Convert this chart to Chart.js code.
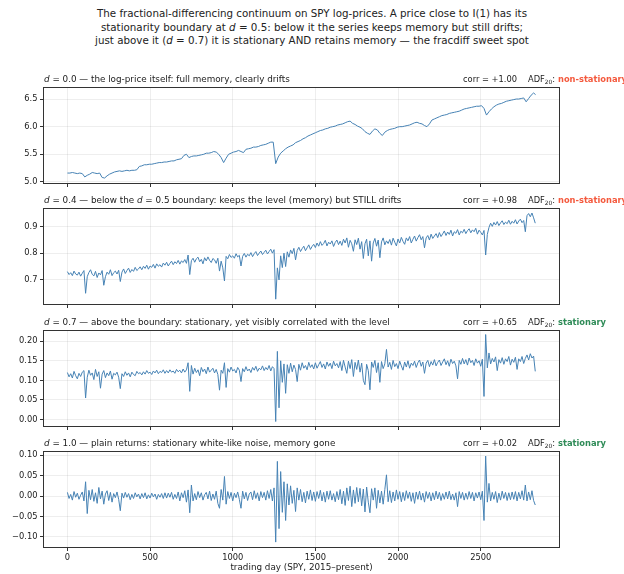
<!DOCTYPE html>
<html><head><meta charset="utf-8">
<script src="https://cdn.jsdelivr.net/npm/chart.js@4.4.1/dist/chart.umd.min.js"></script>
<style>
html,body{margin:0;padding:0;background:#fff;}
body{width:624px;height:574px;position:relative;overflow:hidden;font-family:"DejaVu Sans",sans-serif;}
#title{position:absolute;left:0;top:7px;width:624px;text-align:center;font-size:10.3px;line-height:13.5px;color:#222;}
canvas{position:absolute;left:0;}
</style></head><body>
<div id="title">The fractional-differencing continuum on SPY log-prices. A price close to I(1) has its<br>stationarity boundary at <i>d</i> = 0.5: below it the series keeps memory but still drifts;<br>just above it (<i>d</i> = 0.7) it is stationary AND retains memory — the fracdiff sweet spot</div>
<canvas id="c0"></canvas><canvas id="c1"></canvas><canvas id="c2"></canvas><canvas id="c3"></canvas>
<script>
// ---- data ----
// log-price sampled every 15 trading days; the noisier series every 10 trading days
const DAYS15 = Array.from({length: 190}, (_, i) => Math.min(i * 15, 2832));
const DAYS10 = Array.from({length: 284}, (_, i) => i * 10);
const X_TICKS = [0, 500, 1000, 1500, 2000, 2500];

const LOGPRICE_D00 = [
5.16,5.16,5.17,5.16,5.15,5.16,5.15,5.09,5.12,5.14,
5.17,5.16,5.15,5.16,5.08,5.07,5.11,5.14,5.16,5.18,
5.19,5.20,5.19,5.20,5.21,5.20,5.21,5.21,5.22,5.28,
5.29,5.31,5.31,5.32,5.32,5.33,5.34,5.35,5.35,5.36,
5.36,5.37,5.38,5.38,5.40,5.41,5.42,5.48,5.50,5.44,
5.46,5.47,5.47,5.48,5.49,5.50,5.52,5.52,5.53,5.55,
5.54,5.50,5.44,5.35,5.43,5.50,5.52,5.54,5.55,5.57,
5.55,5.53,5.59,5.60,5.61,5.63,5.63,5.64,5.66,5.67,
5.68,5.70,5.72,5.72,5.33,5.45,5.52,5.56,5.60,5.63,
5.65,5.67,5.71,5.73,5.75,5.78,5.80,5.83,5.85,5.87,
5.89,5.91,5.93,5.94,5.96,5.97,5.99,6.00,6.01,6.03,
6.04,6.05,6.07,6.09,6.10,6.06,6.04,6.01,5.99,5.96,
5.91,5.88,5.86,5.92,5.96,5.94,5.88,5.84,5.90,5.93,
5.95,5.96,5.97,5.99,6.00,6.00,6.01,6.02,6.03,6.05,
6.07,6.08,6.06,6.05,6.02,6.00,6.05,6.12,6.14,6.16,
6.18,6.20,6.21,6.22,6.24,6.25,6.26,6.27,6.28,6.30,
6.32,6.33,6.34,6.35,6.36,6.37,6.37,6.38,6.33,6.21,
6.27,6.32,6.36,6.39,6.41,6.42,6.44,6.46,6.47,6.48,
6.49,6.50,6.50,6.51,6.52,6.45,6.51,6.57,6.61,6.58];

const FRAC_D04 = [
0.731,0.720,0.727,0.716,0.733,0.722,0.718,0.729,0.714,0.725,0.735,0.650,0.712,0.728,0.738,
0.721,0.715,0.732,0.709,0.726,0.719,0.735,0.680,0.712,0.729,0.721,0.738,0.716,0.727,0.733,
0.722,0.736,0.694,0.729,0.741,0.724,0.735,0.744,0.728,0.739,0.732,0.747,0.735,0.741,0.749,
0.738,0.751,0.743,0.755,0.740,0.752,0.747,0.758,0.744,0.760,0.751,0.757,0.748,0.763,0.755,
0.766,0.752,0.762,0.770,0.757,0.768,0.761,0.773,0.759,0.771,0.765,0.776,0.762,0.793,0.720,
0.772,0.781,0.766,0.779,0.785,0.768,0.777,0.760,0.783,0.771,0.786,0.773,0.765,0.780,0.775,
0.762,0.781,0.733,0.770,0.745,0.696,0.788,0.779,0.795,0.784,0.790,0.781,0.798,0.786,0.792,
0.752,0.788,0.799,0.785,0.796,0.790,0.802,0.787,0.798,0.806,0.791,0.800,0.808,0.795,0.803,
0.811,0.797,0.806,0.815,0.800,0.813,0.628,0.745,0.700,0.790,0.746,0.800,0.750,0.805,0.785,
0.812,0.798,0.818,0.775,0.810,0.822,0.806,0.817,0.826,0.809,0.820,0.831,0.814,0.825,0.833,
0.821,0.838,0.826,0.843,0.829,0.836,0.848,0.827,0.841,0.834,0.846,0.825,0.840,0.849,0.832,
0.845,0.829,0.852,0.838,0.857,0.822,0.848,0.835,0.807,0.850,0.832,0.856,0.815,0.843,0.780,
0.835,0.852,0.790,0.846,0.770,0.838,0.855,0.826,0.849,0.783,0.842,0.857,0.831,0.846,0.836,
0.851,0.830,0.856,0.841,0.827,0.853,0.838,0.859,0.844,0.833,0.857,0.846,0.862,0.838,0.852,
0.864,0.845,0.858,0.869,0.850,0.862,0.820,0.857,0.866,0.849,0.871,0.855,0.864,0.873,0.858,
0.877,0.862,0.872,0.883,0.866,0.879,0.870,0.886,0.864,0.880,0.874,0.888,0.868,0.882,0.876,
0.889,0.873,0.884,0.891,0.876,0.887,0.880,0.893,0.871,0.886,0.878,0.868,0.885,0.793,0.870,
0.896,0.912,0.900,0.915,0.905,0.918,0.903,0.913,0.921,0.907,0.916,0.910,0.923,0.908,0.919,
0.912,0.925,0.909,0.920,0.927,0.914,0.922,0.880,0.940,0.948,0.936,0.950,0.932,0.912];

const FRAC_D07 = [
0.120,0.109,0.117,0.106,0.123,0.112,0.104,0.118,0.110,0.121,0.125,0.055,0.108,0.126,0.113,
0.119,0.102,0.128,0.110,0.122,0.080,0.116,0.125,0.107,0.119,0.112,0.124,0.103,0.118,0.114,
0.121,0.108,0.079,0.117,0.110,0.122,0.113,0.119,0.109,0.121,0.115,0.112,0.123,0.117,0.120,
0.114,0.122,0.116,0.125,0.118,0.121,0.115,0.124,0.119,0.126,0.117,0.123,0.120,0.127,0.118,
0.125,0.119,0.127,0.121,0.124,0.118,0.128,0.122,0.126,0.119,0.129,0.121,0.127,0.145,0.072,
0.138,0.116,0.131,0.120,0.127,0.112,0.133,0.122,0.129,0.117,0.134,0.121,0.126,0.131,0.119,
0.128,0.115,0.075,0.126,0.118,0.145,0.082,0.130,0.121,0.134,0.124,0.128,0.119,0.133,0.126,
0.097,0.130,0.122,0.135,0.124,0.129,0.120,0.133,0.126,0.136,0.123,0.131,0.127,0.137,0.125,
0.133,0.127,0.138,0.124,0.135,0.130,-0.005,0.174,0.030,0.150,0.095,0.142,0.067,0.140,0.118,
0.144,0.122,0.139,0.128,0.097,0.141,0.126,0.145,0.131,0.138,0.127,0.146,0.133,0.140,0.129,
0.145,0.131,0.140,0.148,0.133,0.142,0.129,0.147,0.136,0.144,0.130,0.149,0.137,0.143,0.132,
0.148,0.125,0.151,0.134,0.118,0.149,0.130,0.153,0.110,0.146,0.128,0.152,0.121,0.144,0.100,
0.089,0.141,0.125,0.076,0.147,0.133,0.151,0.120,0.145,0.095,0.148,0.130,0.142,0.179,0.134,
0.146,0.128,0.151,0.135,0.143,0.130,0.149,0.137,0.126,0.147,0.134,0.150,0.131,0.144,0.138,
0.149,0.133,0.145,0.152,0.136,0.147,0.118,0.144,0.151,0.135,0.148,0.139,0.153,0.137,0.146,
0.152,0.138,0.147,0.155,0.140,0.150,0.136,0.154,0.143,0.149,0.137,0.104,0.151,0.141,0.156,
0.142,0.153,0.139,0.157,0.145,0.151,0.138,0.155,0.144,0.150,0.136,0.154,0.059,0.217,0.132,
0.170,0.142,0.156,0.147,0.160,0.125,0.153,0.144,0.158,0.141,0.155,0.148,0.161,0.139,0.154,
0.146,0.159,0.128,0.155,0.148,0.161,0.143,0.156,0.165,0.152,0.168,0.157,0.162,0.123];

const RETURNS_D10 = [
0.009,-0.006,0.004,-0.010,0.011,-0.003,0.007,-0.008,0.002,0.010,-0.012,0.035,-0.043,0.014,-0.009,
0.016,-0.013,0.008,-0.018,0.021,-0.007,0.012,-0.020,0.005,0.013,-0.011,0.009,-0.015,0.006,-0.004,
0.010,-0.008,-0.036,0.007,-0.005,0.009,-0.003,0.006,-0.009,0.004,-0.006,0.008,-0.002,0.005,-0.007,
0.006,-0.004,0.008,-0.007,0.003,-0.005,0.007,-0.002,0.005,-0.008,0.004,-0.003,0.006,-0.006,0.008,
-0.005,0.007,-0.003,0.009,-0.008,0.004,-0.006,0.010,-0.012,0.008,-0.004,0.013,-0.015,0.015,-0.041,
0.027,-0.012,0.006,-0.009,0.011,-0.004,0.008,-0.010,0.003,0.009,-0.007,0.012,-0.011,0.005,-0.008,
0.012,-0.018,-0.030,0.016,-0.010,0.048,-0.020,0.011,-0.006,0.009,-0.012,0.007,-0.004,0.010,-0.008,
-0.030,0.012,-0.007,0.009,-0.011,0.005,0.010,-0.009,0.013,-0.006,0.008,-0.012,0.011,-0.004,0.009,
-0.010,0.013,-0.006,0.016,-0.012,0.020,-0.113,0.085,-0.080,0.060,-0.040,0.035,-0.060,0.030,-0.022,
0.025,-0.018,0.014,-0.038,0.020,-0.010,0.016,-0.014,0.009,-0.017,0.012,-0.008,0.015,-0.011,0.010,
-0.013,0.011,-0.006,0.014,-0.012,0.009,-0.015,0.012,-0.008,0.013,-0.010,0.006,-0.014,0.011,-0.009,
0.016,-0.019,0.012,-0.023,0.020,-0.011,0.024,-0.026,0.015,-0.018,0.021,-0.014,0.019,-0.024,0.017,
-0.039,0.022,-0.015,-0.041,0.018,-0.010,0.020,-0.030,0.014,-0.017,0.012,-0.020,0.016,0.052,-0.014,
0.013,-0.016,0.010,-0.012,0.015,-0.008,0.011,-0.014,0.009,-0.011,0.013,-0.006,0.010,-0.013,0.008,
-0.018,0.010,-0.008,0.012,-0.010,0.007,-0.015,0.011,-0.006,0.009,-0.012,0.008,-0.009,0.012,-0.007,
0.009,-0.011,0.006,-0.008,0.010,-0.007,0.012,-0.009,0.005,-0.010,0.008,-0.026,0.011,-0.006,0.009,
-0.010,0.007,-0.008,0.011,-0.006,0.009,-0.012,0.008,-0.005,0.010,-0.009,0.012,-0.060,0.098,-0.015,
0.031,-0.012,0.009,-0.008,0.011,-0.016,0.007,-0.010,0.012,-0.006,0.009,-0.011,0.008,-0.009,0.010,
-0.008,0.011,-0.012,0.009,-0.007,0.013,-0.010,0.027,-0.012,0.010,-0.009,0.013,-0.011,-0.022];

const Y_TICKS_D00 = [5.0, 5.5, 6.0, 6.5];
const Y_TICKS_D04 = [0.7, 0.8, 0.9];
const Y_TICKS_D07 = [0.00, 0.05, 0.10, 0.15, 0.20];
const Y_TICKS_D10 = [-0.10, -0.05, 0.00, 0.05, 0.10];

const CORR = ['+1.00', '+0.98', '+0.65', '+0.02'];
const ADF_STATUS = ['non-stationary', 'non-stationary', 'stationary', 'stationary'];

// ---- presentation ----
const FONT = '"DejaVu Sans", sans-serif';
const FS = 8.8;      // panel titles, axis title
const FS_TICK = 8.3; // tick labels
const FS_ANN = 8.3;  // corr / ADF annotation
const TXT = '#222';
const RED = '#f4593d', GREEN = '#2e8b57';
const PANELS = [
  {id:'c0', days:DAYS15, vals:LOGPRICE_D00, ticks:Y_TICKS_D00, dec:1, ymin:4.98, ymax:6.70, top:88,
   title:[['d','italic'],[' = 0.0 — the log-price itself: full memory, clearly drifts','normal']]},
  {id:'c1', days:DAYS10, vals:FRAC_D04, ticks:Y_TICKS_D04, dec:1, ymin:0.61, ymax:0.965, top:209,
   title:[['d','italic'],[' = 0.4 — below the ','normal'],['d','italic'],[' = 0.5 boundary: keeps the level (memory) but STILL drifts','normal']]},
  {id:'c2', days:DAYS10, vals:FRAC_D07, ticks:Y_TICKS_D07, dec:2, ymin:-0.0164, ymax:0.226, top:331,
   title:[['d','italic'],[' = 0.7 — above the boundary: stationary, yet visibly correlated with the level','normal']]},
  {id:'c3', days:DAYS10, vals:RETURNS_D10, ticks:Y_TICKS_D10, dec:2, ymin:-0.125, ymax:0.108, top:452,
   title:[['d','italic'],[' = 1.0 — plain returns: stationary white-like noise, memory gone','normal']]}
];
const PAD_TOP = 22, PLOT_H = 95, LEFT = 44, RIGHT_PAD = 65;

function drawRuns(ctx, runs, x, y) {
  for (const r of runs) {
    ctx.font = (r[1] === 'italic' ? 'italic ' : (r[1] === 'bold' ? 'bold ' : '')) + (r[2] || FS) + 'px ' + FONT;
    ctx.fillStyle = r[3] || TXT;
    ctx.fillText(r[0], x, y + (r[4] || 0));
    x += ctx.measureText(r[0]).width;
  }
  return x;
}

PANELS.forEach((p, k) => {
  const last = k === PANELS.length - 1;
  const xh = last ? 574 - (p.top + PLOT_H) : 6;
  const cv = document.getElementById(p.id);
  cv.width = 624; cv.height = PAD_TOP + PLOT_H + xh;
  cv.style.top = (p.top - PAD_TOP) + 'px';

  const textPlugin = {
    id: 'panelText' + k,
    afterDraw(chart) {
      const ctx = chart.ctx, a = chart.chartArea;
      ctx.save();
      ctx.strokeStyle = '#333'; ctx.lineWidth = 1;
      ctx.strokeRect(a.left - 0.5, a.top - 0.5, a.right - a.left + 1, a.bottom - a.top + 1);
      ctx.textBaseline = 'middle'; ctx.textAlign = 'left';
      const ty = a.top - 8;
      drawRuns(ctx, p.title, a.left, ty);
      drawRuns(ctx, [['corr = ' + CORR[k], 'normal', FS_ANN]], 463, ty);
      drawRuns(ctx, [['ADF', 'normal', FS_ANN], ['20', 'normal', 5.9, TXT, 2], [':', 'normal', FS_ANN]], 528, ty);
      drawRuns(ctx, [[ADF_STATUS[k], 'bold', FS_ANN, ADF_STATUS[k] === 'stationary' ? GREEN : RED]], 558, ty);
      ctx.restore();
    }
  };

  new Chart(cv, {
    type: 'line',
    data: {
      datasets: [{
        data: p.days.map((d, i) => ({x: d, y: p.vals[i]})),
        borderColor: '#4682b4',
        borderWidth: 1.0,
        pointRadius: 0,
        tension: 0,
        fill: false
      }]
    },
    options: {
      responsive: false, animation: false, events: [],
      layout: {padding: {top: PAD_TOP, right: RIGHT_PAD, bottom: 0, left: 0}},
      plugins: {legend: {display: false}, tooltip: {enabled: false}, title: {display: false}},
      scales: {
        x: {
          type: 'linear', min: -141.6, max: 2973.6,
          afterBuildTicks: s => { s.ticks = X_TICKS.map(v => ({value: v})); },
          afterFit: s => { s.height = xh; s.paddingLeft = 0; s.paddingRight = 0; s.paddingTop = 0; s.paddingBottom = 0; },
          grid: {color: 'rgba(0,0,0,0.085)', lineWidth: 0.8, tickColor: '#333', tickLength: 4, tickWidth: 1},
          border: {display: false},
          ticks: {display: last, color: TXT, font: {family: FONT, size: FS_TICK}, padding: 1.5, maxRotation: 0,
                  callback: v => String(v)},
          title: {display: last, text: 'trading day (SPY, 2015–present)', color: TXT,
                  font: {family: FONT, size: FS}, padding: {top: 1, bottom: 1.5}}
        },
        y: {
          type: 'linear', min: p.ymin, max: p.ymax,
          afterBuildTicks: s => { s.ticks = p.ticks.map(v => ({value: v})); },
          afterFit: s => { s.width = LEFT; s.paddingTop = 0; s.paddingBottom = 0; s.paddingLeft = 0; s.paddingRight = 0; },
          grid: {color: 'rgba(0,0,0,0.085)', lineWidth: 0.8, tickColor: '#333', tickLength: 4, tickWidth: 1},
          border: {display: false},
          ticks: {color: TXT, font: {family: FONT, size: FS_TICK}, padding: 2.5,
                  callback: v => (v < 0 ? '−' : '') + Math.abs(v).toFixed(p.dec)}
        }
      }
    },
    plugins: [textPlugin]
  });
});
</script>
</body></html>
